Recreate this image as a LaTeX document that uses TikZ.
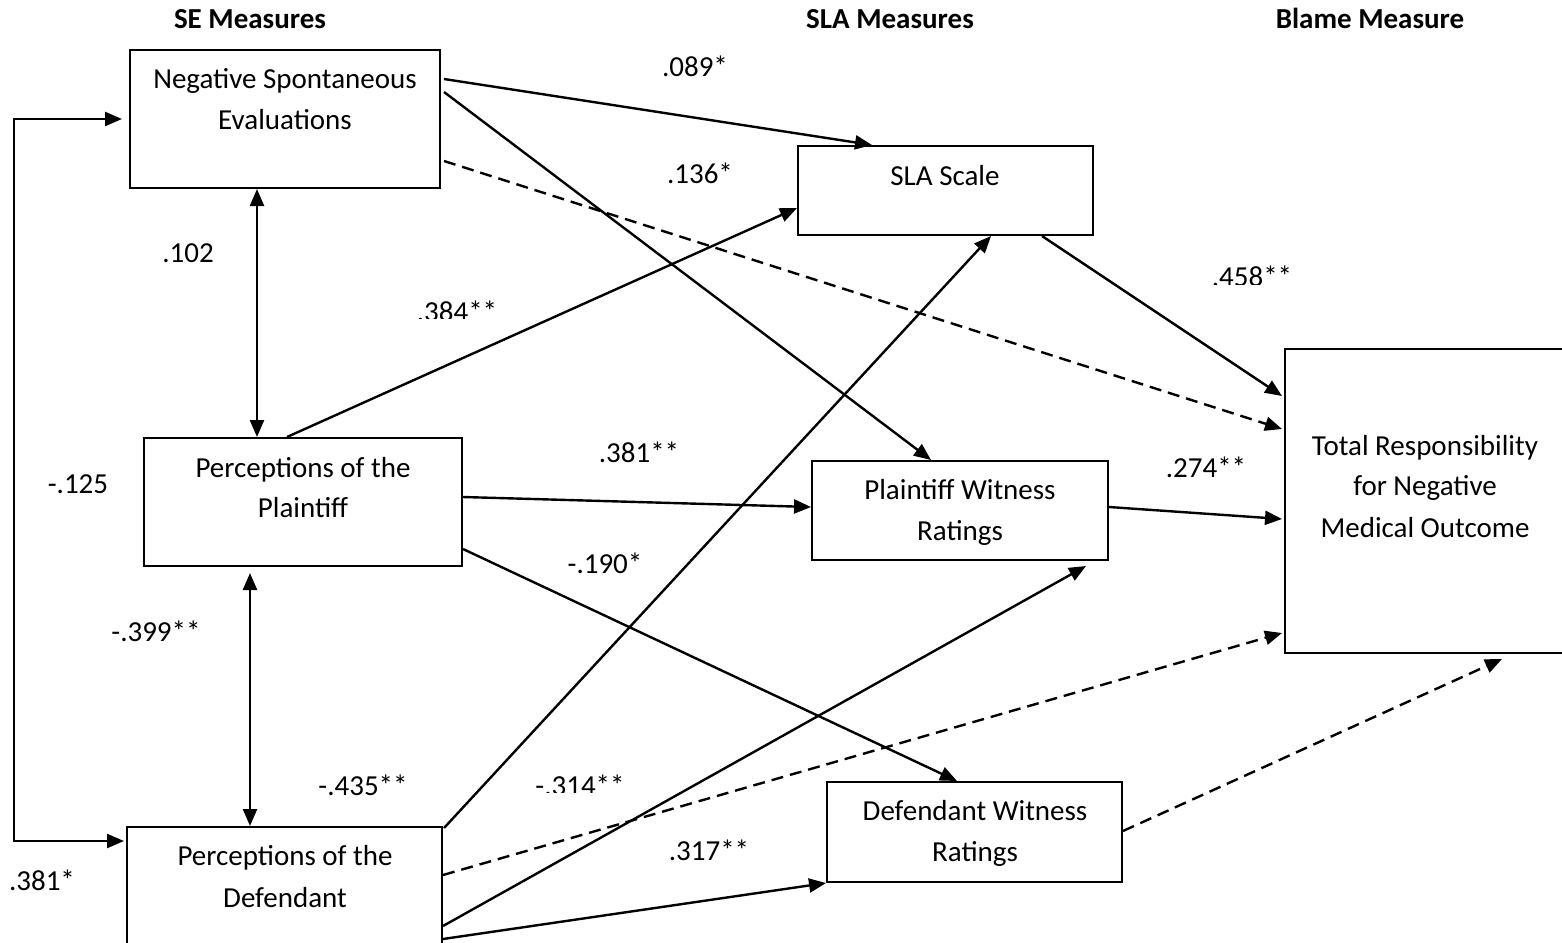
\documentclass[tikz,border=0pt]{standalone}
\usepackage{fontspec}
\setmainfont{Carlito}
\usetikzlibrary{arrows.meta,calc}
\begin{document}
\begin{tikzpicture}[x=1pt,y=-1pt,
  box/.style={draw,line width=2pt,inner sep=0pt},
  txt/.style={anchor=base,inner sep=0pt,font=\fontsize{29}{40}\selectfont},
  hdr/.style={anchor=base,inner sep=0pt,font=\fontsize{29}{40}\selectfont\bfseries},
  tip/.tip={Triangle[length=17pt,width=14pt]},
  conn/.style={line width=2.4pt,-tip},
  dconn/.style={line width=2.4pt,-tip,dash pattern=on 12pt off 7pt},
  biconn/.style={line width=2.4pt,tip-tip}]
\useasboundingbox (0,0) rectangle (1562,942);
\fill[white] (0,0) rectangle (1562,942);

% headers
\node[hdr] (h1) at (250,29) {SE Measures};
\node[hdr] (h2) at (890,29) {SLA Measures};
\node[hdr] (h3) at (1370,29) {Blame Measure};

% boxes
\node[box,minimum width=310pt,minimum height=138pt] (nse) at (285,119) {};
\node[box,minimum width=295pt,minimum height=89pt] (sla) at (945.5,190.5) {};
\node[box,minimum width=318pt,minimum height=128pt] (pp) at (303,502) {};
\node[box,minimum width=296pt,minimum height=99pt] (pwr) at (960,510.5) {};
\node[box,minimum width=295pt,minimum height=100pt] (dwr) at (974.5,832) {};
\node[box,minimum width=315pt,minimum height=135pt] (pd) at (284.5,894.5) {};
\node[box,minimum width=283pt,minimum height=304pt] (tr) at (1426.5,501) {};

% box texts
\node[txt] (nse1) at (285,88) {Negative Spontaneous};
\node[txt] (nse2) at (285,129) {Evaluations};
\node[txt] (sla1) at (945,185) {SLA Scale};
\node[txt] (pp1) at (303,477) {Perceptions of the};
\node[txt] (pp2) at (303,517) {Plaintiff};
\node[txt] (pwr1) at (960,499) {Plaintiff Witness};
\node[txt] (pwr2) at (960,540) {Ratings};
\node[txt] (dwr1) at (975,820) {Defendant Witness};
\node[txt] (dwr2) at (975,861) {Ratings};
\node[txt] (pd1) at (285,865) {Perceptions of the};
\node[txt] (pd2) at (285,907) {Defendant};
\node[txt] (tr1) at (1425,455) {Total Responsibility};
\node[txt] (tr2) at (1425,495) {for Negative};
\node[txt] (tr3) at (1425,537) {Medical Outcome};

% connectors
\draw[conn] ($(nse.north east)+(3,30)$) -- ($(sla.north west)+(75,0)$);
\draw[conn] ($(nse.north east)+(3,43)$) -- ($(pwr.north west)+(120,0)$);
\draw[dconn] ($(nse.north east)+(3,112)$) -- ($(tr.north west)+(-2,81)$);
\draw[biconn] ($(nse.south west)+(128,0)$) -- ($(pp.north west)+(114,0)$);
\draw[conn] ($(pp.north west)+(144,0)$) -- ($(sla.south west)+(0,-28)$);
\draw[conn] ($(pp.north east)+(0,60)$) -- ($(pwr.north west)+(0,47)$);
\draw[conn] ($(pp.north east)+(0,112)$) -- ($(dwr.north west)+(131,0)$);
\draw[biconn] ($(pp.south west)+(107,6)$) -- ($(pd.north west)+(124,0)$);
\draw[biconn] ($(nse.north west)+(-7,70)$) -- ($(nse.north west)+(-115,70)$) |- ($(pd.north west)+(-2,15)$);
\draw[conn] ($(pd.north east)+(1,2)$) -- ($(sla.south west)+(194,0)$);
\draw[dconn] ($(pd.north east)+(0,49)$) -- ($(tr.south west)+(-2,-21)$);
\draw[conn] ($(pd.north east)+(0,100)$) -- ($(pwr.south east)+(-23,5)$);
\draw[conn] ($(pd.north east)+(0,113)$) -- (dwr.south west);
\draw[conn] ($(sla.south west)+(245,0)$) -- ($(tr.north west)+(-2,48)$);
\draw[conn] ($(pwr.north east)+(0,47)$) -- ($(tr.north west)+(-2,171)$);
\draw[dconn] ($(dwr.north east)+(0,50)$) -- ($(tr.south west)+(218,5)$);

% labels
\node[txt] (l089) at (695,77) {.089*};
\node[txt] (l136) at (700,183) {.136*};
\node[txt] (l102) at (188,262) {.102};
\begin{scope}
\clip (380,280) rectangle (540,318);
\node[txt] (l384) at (457,321) {.384**};
\end{scope}
\begin{scope}
\clip (1180,250) rectangle (1320,284);
\node[txt] (l458) at (1252,286) {.458**};
\end{scope}
\node[txt] (l125) at (78,493) {-.125};
\node[txt] (l399) at (156,641) {-.399**};
\node[txt] (l381a) at (639,462) {.381**};
\node[txt] (l190) at (605,573) {-.190*};
\node[txt] (l274) at (1206,477) {.274**};
\node[txt] (l435) at (363,795) {-.435**};
\node[txt] (l381b) at (42,890) {.381*};
\begin{scope}
\clip (500,750) rectangle (660,792);
\node[txt] (l314) at (580,795) {-.314**};
\end{scope}
\node[txt] (l317) at (709,860) {.317**};
\end{tikzpicture}
\end{document}
